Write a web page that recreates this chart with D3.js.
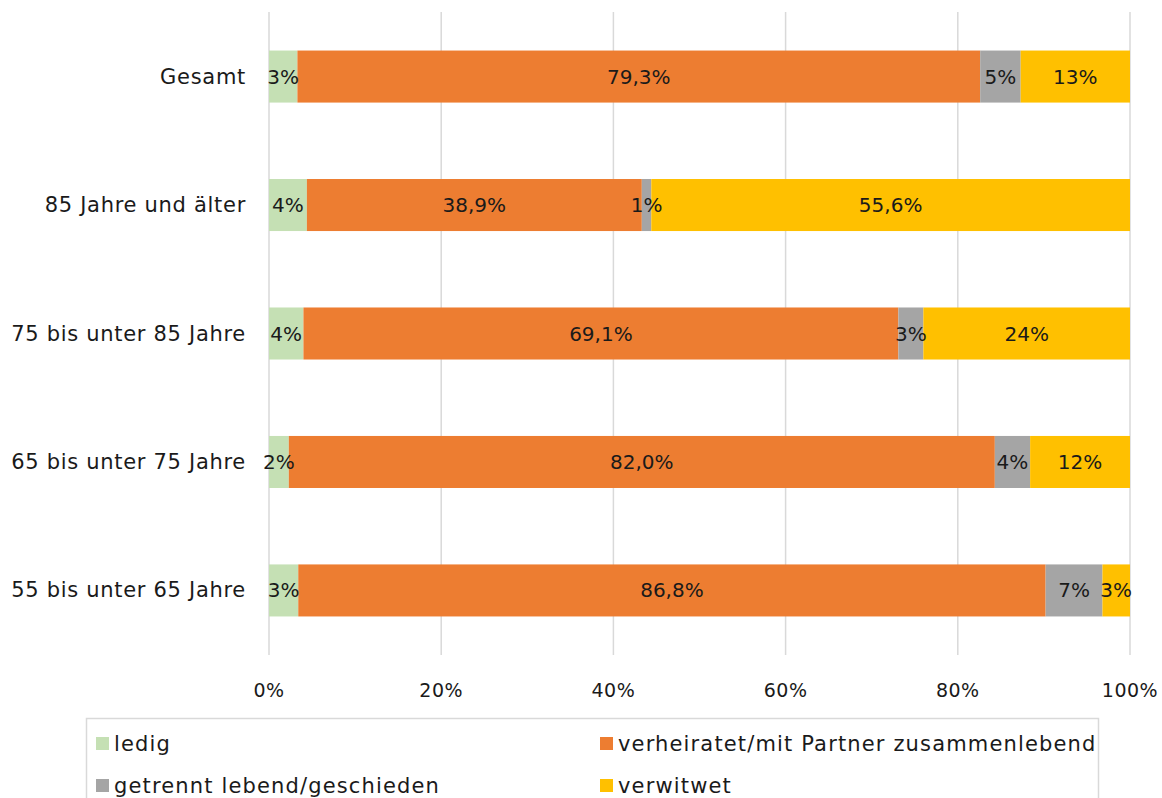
<!DOCTYPE html>
<html>
<head>
<meta charset="utf-8">
<script src="https://cdn.jsdelivr.net/npm/d3@7"></script>
<style>
  body { margin: 0; background: #fff; }
  svg { display: block; }
  text { font-family: "DejaVu Sans", sans-serif; fill: #1a1a1a; }
</style>
</head>
<body>
<svg id="chart" width="1162" height="798"></svg>
<script>
// Age groups, top to bottom
const categories = ["Gesamt", "85 Jahre und älter", "75 bis unter 85 Jahre", "65 bis unter 75 Jahre", "55 bis unter 65 Jahre"];

// Series names
const seriesNames = ["ledig", "verheiratet/mit Partner zusammenlebend", "getrennt lebend/geschieden", "verwitwet"];

// Shares in percent, one value per category
const ledig       = [3.3, 4.4, 4.0, 2.3, 3.4];
const verheiratet = [79.3, 38.9, 69.1, 82.0, 86.8];
const getrennt    = [4.7, 1.1, 2.9, 4.1, 6.6];
const verwitwet   = [12.7, 55.6, 24.0, 11.6, 3.2];

// Decimal places shown in each data label (per series, per category)
const ledigDecimals       = [0, 0, 0, 0, 0];
const verheiratetDecimals = [1, 1, 1, 1, 1];
const getrenntDecimals    = [0, 0, 0, 0, 0];
const verwitwetDecimals   = [0, 1, 0, 0, 0];

const tickValues = [0, 20, 40, 60, 80, 100];

const colors = ["#C5E0B4", "#ED7D31", "#A5A5A5", "#FFC000"];

const seriesValues = [ledig, verheiratet, getrennt, verwitwet];
const seriesDecimals = [ledigDecimals, verheiratetDecimals, getrenntDecimals, verwitwetDecimals];

const rows = categories.map((c, i) => {
  const r = { cat: c, idx: i };
  seriesNames.forEach((s, k) => r[s] = seriesValues[k][i]);
  return r;
});

const stacked = d3.stack().keys(seriesNames)(rows);

const svg = d3.select("#chart");
const plotLeft = 269, plotRight = 1130, plotTop = 12, plotBottom = 655;

const x = d3.scaleLinear().domain([0, 100]).range([plotLeft, plotRight]);
const y = d3.scaleBand().domain(categories).range([plotTop, plotBottom]).paddingInner(0.595).paddingOuter(0.3);

// vertical gridlines
svg.append("g").selectAll("line").data(tickValues).join("line")
  .attr("x1", d => x(d)).attr("x2", d => x(d))
  .attr("y1", plotTop).attr("y2", plotBottom)
  .attr("stroke", "#d9d9d9").attr("stroke-width", 1.5);

// tick labels
svg.append("g").selectAll("text").data(tickValues).join("text")
  .attr("x", d => x(d)).attr("y", 697)
  .attr("text-anchor", "middle")
  .style("font-size", "19px")
  .style("letter-spacing", "0.5px")
  .text(d => d + "%");

// category labels
svg.append("g").selectAll("text").data(categories).join("text")
  .attr("x", 246).attr("y", d => y(d) + y.bandwidth() / 2 + 7)
  .attr("text-anchor", "end")
  .style("font-size", "21px")
  .style("letter-spacing", "0.7px")
  .text(d => d);

const fmt = (v, dec) => d3.format("." + dec + "f")(v).replace(".", ",") + "%";

// stacked segments
const layers = svg.append("g").selectAll("g").data(stacked).join("g")
  .attr("fill", (d, i) => colors[i]);

layers.selectAll("rect").data(d => d).join("rect")
  .attr("x", d => x(d[0]))
  .attr("width", d => x(d[1]) - x(d[0]))
  .attr("y", d => y(d.data.cat))
  .attr("height", y.bandwidth());

// value labels
svg.append("g").selectAll("g").data(stacked).join("g")
  .each(function(layer, i) {
    d3.select(this).selectAll("text").data(layer).join("text")
      .attr("x", d => (x(d[0]) + x(d[1])) / 2)
      .attr("y", d => y(d.data.cat) + y.bandwidth() / 2 + 7)
      .attr("text-anchor", "middle")
      .style("font-size", "20px")
      .text(d => fmt(d[1] - d[0], seriesDecimals[i][d.data.idx]));
  });

// legend
const legend = svg.append("g");
legend.append("rect")
  .attr("x", 86.5).attr("y", 718.5).attr("width", 1012).attr("height", 90)
  .attr("fill", "none").attr("stroke", "#d9d9d9").attr("stroke-width", 1.5);

const legendPos = [[96, 744], [600, 744], [96, 786], [600, 786]];
seriesNames.forEach((s, i) => {
  const [lx, ly] = legendPos[i];
  legend.append("rect").attr("x", lx).attr("y", ly - 7).attr("width", 13).attr("height", 13).attr("fill", colors[i]);
  legend.append("text").attr("x", lx + 18).attr("y", ly + 7)
    .style("font-size", "21px").style("letter-spacing", "1.15px").text(s);
});
</script>
</body>
</html>
